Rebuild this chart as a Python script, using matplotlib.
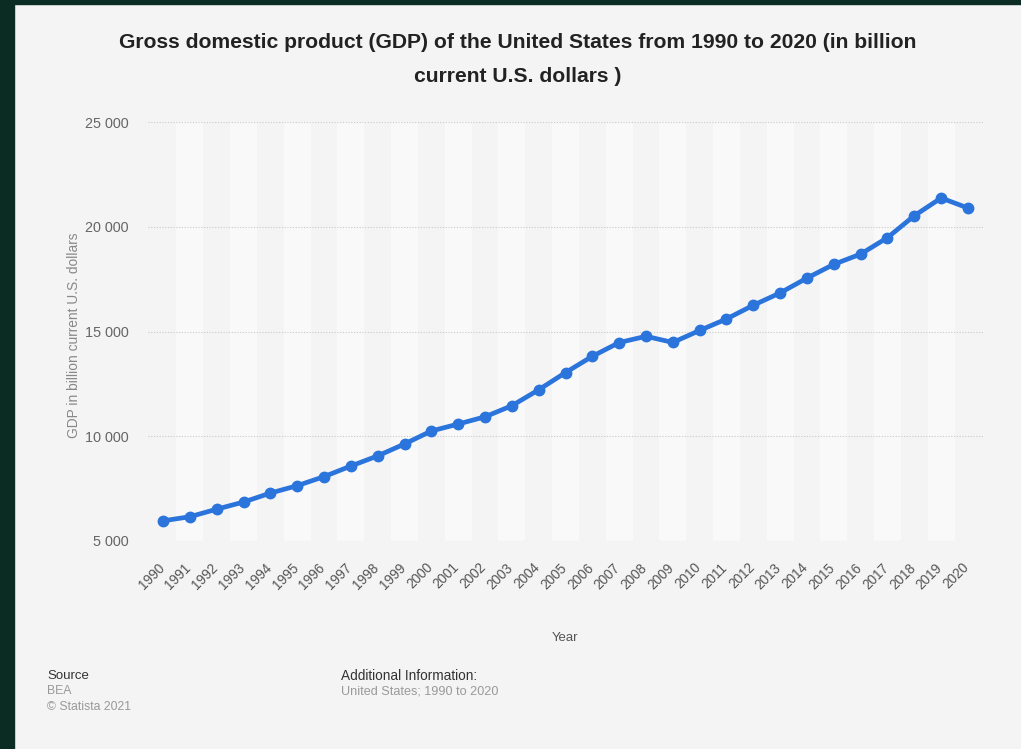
import numpy as np
import matplotlib.pyplot as plt
import matplotlib.transforms as mtransforms
from matplotlib.patches import Rectangle

plt.rcParams['font.family'] = ['Liberation Sans', 'DejaVu Sans']

years = list(range(1990, 2021))
gdp = [5963, 6158, 6520, 6859, 7287, 7640, 8073, 8578, 9063, 9631,
       10251, 10582, 10929, 11457, 12217, 13039, 13816, 14474, 14770, 14478,
       15049, 15600, 16254, 16843, 17551, 18206, 18695, 19480, 20527, 21373,
       20894]
y_ticks = [5000, 10000, 15000, 20000, 25000]
y_labels = ['5 000', '10 000', '15 000', '20 000', '25 000']

bg = '#f4f4f4'
fig = plt.figure(figsize=(10.21, 7.49), dpi=100, facecolor=bg)

# dark frame from the screenshot
fig.patches.append(Rectangle((0, 0), 14 / 1021, 1, transform=fig.transFigure,
                             color='#0b2c22', zorder=10))
fig.patches.append(Rectangle((0, 1 - 4 / 749), 1, 4 / 749, transform=fig.transFigure,
                             color='#0b2c22', zorder=10))

ax = fig.add_axes([148 / 1021, 1 - 541 / 749, (983 - 148) / 1021, (541 - 122) / 749])
ax.set_facecolor(bg)
x = np.arange(len(years))

for i in x:
    if i % 2 == 1:
        ax.axvspan(i - 0.5, i + 0.5, color='#f9f9f9', lw=0, zorder=0)

for t in y_ticks:
    ax.axhline(t, color='#c8c8c8', lw=0.8, ls=(0, (1, 1.5)), zorder=1)

ax.plot(x, gdp, color='#2a74dc', lw=3.4, marker='o', ms=7.5, zorder=3,
        solid_capstyle='round')

ax.set_xlim(-0.56, len(years) - 1 + 0.56)
ax.set_ylim(5000, 25000)
ax.set_yticks(y_ticks)
ax.set_yticklabels(y_labels, color='#666666', fontsize=10.4)
ax.set_xticks(x)
ax.set_xticklabels([str(y) for y in years], rotation=45, ha='right', va='top',
                   color='#555555', fontsize=9.8)
ax.tick_params(axis='both', length=0)
ax.tick_params(axis='y', pad=14)
ax.tick_params(axis='x', pad=14)
shift = mtransforms.ScaledTranslation(4 / 100, 0, fig.dpi_scale_trans)
for lab in ax.get_xticklabels():
    lab.set_transform(lab.get_transform() + shift)
for s in ax.spines.values():
    s.set_visible(False)

ax.set_xlabel('Year', color='#555555', fontsize=9.5, labelpad=29)
ax.set_ylabel('GDP in billion current U.S. dollars', color='#888888', fontsize=9.9)
ax.yaxis.set_label_coords(-(148 - 81) / (983 - 148), 0.49)

fig.text(518 / 1021, 1 - 59 / 749,
         'Gross domestic product (GDP) of the United States from 1990 to 2020 (in billion\ncurrent U.S. dollars )',
         ha='center', va='center', fontsize=15.2, fontweight='bold', color='#222222',
         linespacing=2.0)

fig.text(47 / 1021, 1 - 676 / 749, 'Source', fontsize=9.5, color='#333333', va='center')
fig.text(47 / 1021, 1 - 691 / 749, 'BEA', fontsize=8.8, color='#999999', va='center')
fig.text(47 / 1021, 1 - 707 / 749, '© Statista 2021', fontsize=8.8, color='#999999', va='center')
fig.text(341 / 1021, 1 - 676 / 749, 'Additional Information:', fontsize=9.8, color='#333333',
         va='center')
fig.text(341 / 1021, 1 - 692 / 749, 'United States; 1990 to 2020', fontsize=9.1,
         color='#999999', va='center')

fig.savefig('out.png', dpi=100, facecolor=bg)
